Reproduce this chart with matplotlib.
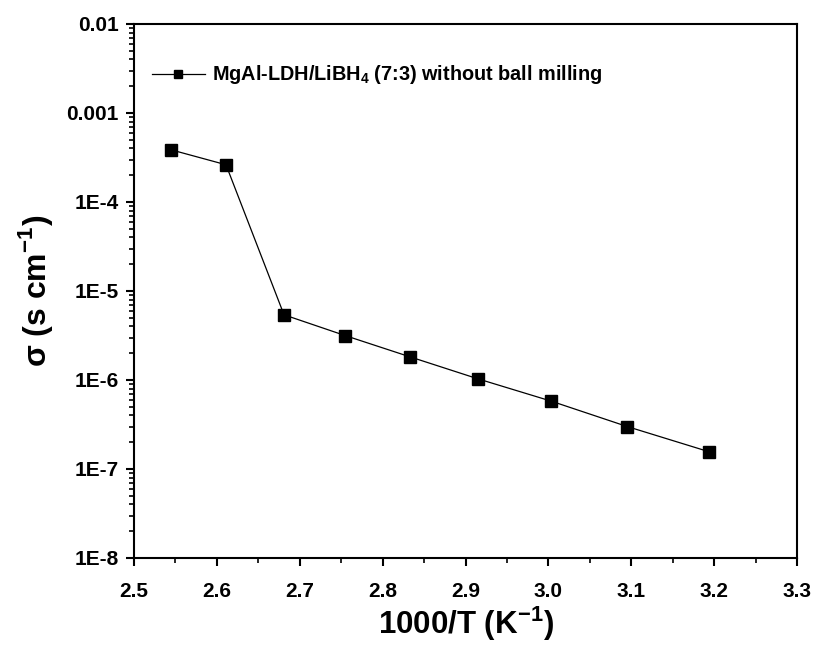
import numpy as np
import matplotlib
matplotlib.use('Agg')
import matplotlib.pyplot as plt
from matplotlib.ticker import LogLocator, FixedLocator, FuncFormatter, MultipleLocator

plt.rcParams['font.family'] = ['Liberation Sans', 'DejaVu Sans']
plt.rcParams['font.weight'] = 'bold'
plt.rcParams['mathtext.fontset'] = 'custom'
plt.rcParams['mathtext.rm'] = 'Liberation Sans:bold'
plt.rcParams['mathtext.bf'] = 'Liberation Sans:bold'

# 1000/T (K^-1) e condutividade (S cm^-1)
inv_t = [2.545, 2.611, 2.681, 2.755, 2.833, 2.915, 3.003, 3.095, 3.194]
sigma = [3.85e-4, 2.62e-4, 5.4e-6, 3.15e-6, 1.82e-6, 1.03e-6, 5.8e-7, 3.0e-7, 1.56e-7]
serie = 'MgAl-LDH/LiBH$_4$ (7:3) without ball milling'
rotulos_y = {1e-2: '0.01', 1e-3: '0.001', 1e-4: '1E-4', 1e-5: '1E-5',
             1e-6: '1E-6', 1e-7: '1E-7', 1e-8: '1E-8'}

fig = plt.figure(figsize=(8.15, 6.48), dpi=100)
ax = fig.add_axes([0.1644, 0.1389, 0.8136, 0.8241])

ax.plot(inv_t, sigma, color='black', linewidth=0.9, marker='s', markersize=8,
        markerfacecolor='black', markeredgecolor='black', label=serie)

ax.set_yscale('log')
ax.set_xlim(2.5, 3.3)
ax.set_ylim(1e-8, 1e-2)

ax.xaxis.set_major_locator(MultipleLocator(0.1))
ax.xaxis.set_minor_locator(MultipleLocator(0.05))
ax.xaxis.set_major_formatter(FuncFormatter(lambda v, p: f'{v:.1f}'))
ax.yaxis.set_major_locator(FixedLocator(list(rotulos_y.keys())))
ax.yaxis.set_major_formatter(FuncFormatter(lambda v, p: rotulos_y.get(min(rotulos_y, key=lambda k: abs(np.log10(k) - np.log10(v))), '')))
ax.yaxis.set_minor_locator(LogLocator(base=10, subs=np.arange(2, 10), numticks=20))
ax.yaxis.set_minor_formatter(FuncFormatter(lambda v, p: ''))

ax.tick_params(axis='both', which='major', direction='out', length=6, width=1.5,
               labelsize=15, top=False, right=False)
ax.tick_params(axis='x', which='major', pad=11)
ax.tick_params(axis='y', which='major', pad=5)
ax.tick_params(axis='both', which='minor', direction='out', length=3.5, width=1.2,
               top=False, right=False)
for s in ax.spines.values():
    s.set_linewidth(1.5)

ax.set_xlabel('1000/T (K$^{-1}$)', fontsize=22.5, fontweight='bold', labelpad=3)
ax.set_ylabel('σ (s cm$^{-1}$)', fontsize=23, fontweight='bold', labelpad=8)

leg = ax.legend(loc='center left', frameon=False, handlelength=2.67,
                handletextpad=0.34, borderpad=0, borderaxespad=0, markerscale=0.65,
                bbox_to_anchor=(0.027, 0.9045),
                prop={'family': 'Liberation Sans', 'weight': 'bold', 'size': 14.3})

fig.savefig('out.png', dpi=100)
